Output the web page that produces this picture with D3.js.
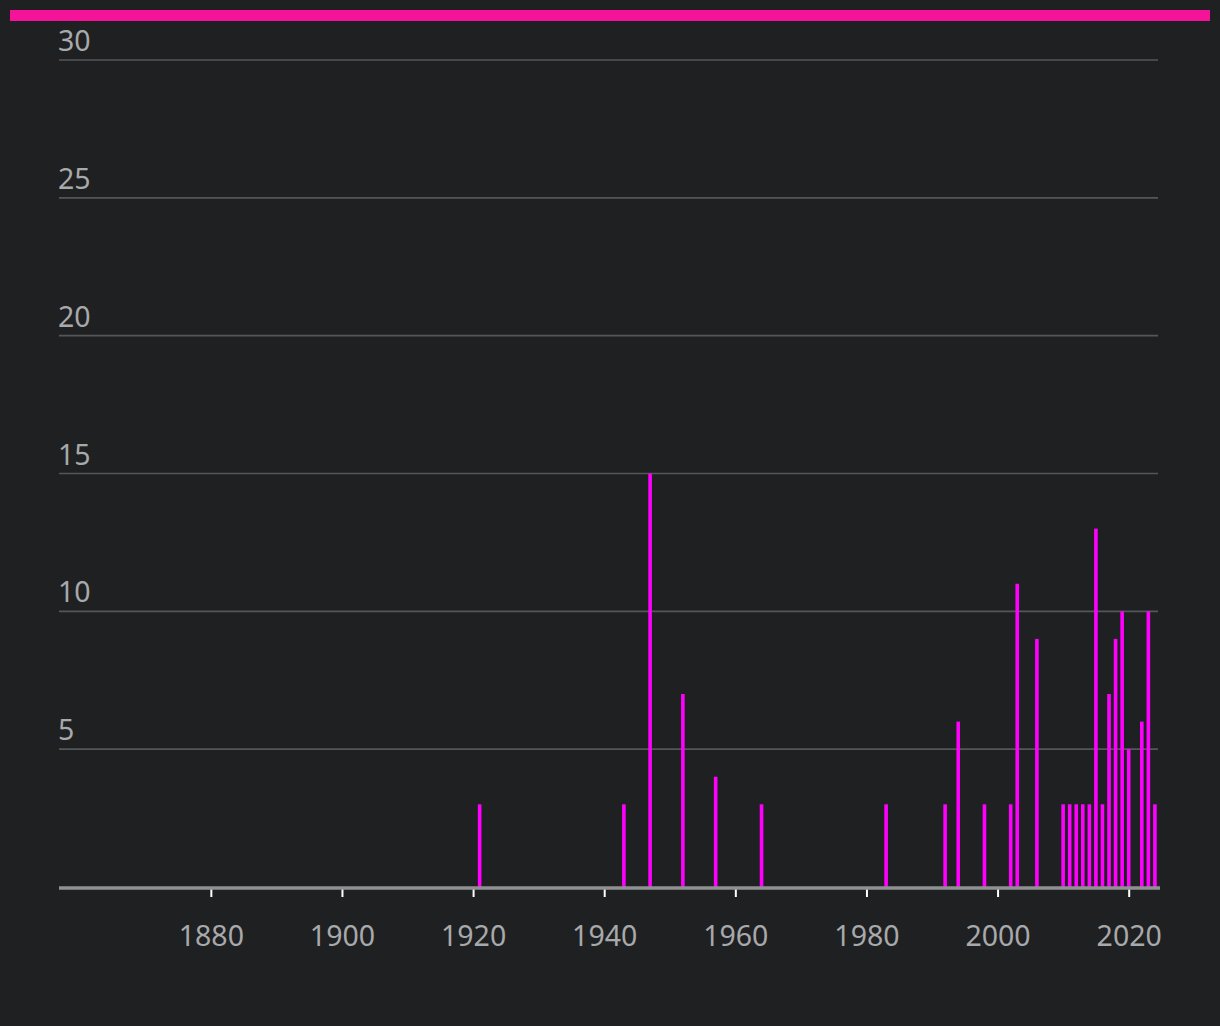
<!DOCTYPE html>
<html>
<head>
<meta charset="utf-8">
<script src="https://cdn.jsdelivr.net/npm/d3@7"></script>
<style>
  html, body { margin: 0; padding: 0; background: #1f2022; }
  svg { display: block; }
</style>
</head>
<body>
<div id="chart"></div>
<script>
const years  = [1921, 1943, 1947, 1952, 1957, 1964, 1983, 1992, 1994, 1998, 2002, 2003, 2006, 2010, 2011, 2012, 2013, 2014, 2015, 2016, 2017, 2018, 2019, 2020, 2022, 2023, 2024];
const values = [3, 3, 15, 7, 4, 3, 3, 3, 6, 3, 3, 11, 9, 3, 3, 3, 3, 3, 13, 3, 7, 9, 10, 5, 6, 10, 3];
const yTicks = [0, 5, 10, 15, 20, 25, 30];
const xTicks = [1880, 1900, 1920, 1940, 1960, 1980, 2000, 2020];

const W = 1220, H = 1026;
const svg = d3.select("#chart").append("svg").attr("width", W).attr("height", H);
svg.append("rect").attr("width", W).attr("height", H).attr("fill", "#1f2022");

// top accent bar
svg.append("rect").attr("x", 10).attr("y", 10).attr("width", 1200).attr("height", 11).attr("fill", "#f5139a");

const x = d3.scaleLinear().domain([1856.84, 2024.47]).range([59, 1158]);
const y = d3.scaleLinear().domain([0, 30]).range([887, 60]);
const font = "'Noto Sans', 'Open Sans', sans-serif";

// gridlines + labels
const g = svg.append("g");
yTicks.filter(d => d > 0).forEach(t => {
  g.append("line").attr("x1", 59).attr("x2", 1158).attr("y1", y(t)).attr("y2", y(t))
    .attr("stroke", "#555659").attr("stroke-width", 1.6);
  g.append("text").attr("x", 58).attr("y", y(t) - 9).text(t)
    .attr("fill", "#a8a9ab").attr("font-size", 28.5).attr("font-family", font);
});

// bars
const bw = 3.6;
svg.append("g").selectAll("rect").data(years).join("rect")
  .attr("x", (d) => x(d) - bw / 2)
  .attr("width", bw)
  .attr("y", (d, i) => y(values[i]))
  .attr("height", (d, i) => y(0) - y(values[i]))
  .attr("fill", "#ff00ff");

// x axis
const xAxis = d3.axisBottom(x).tickValues(xTicks).tickFormat(d3.format("d")).tickSize(10).tickPadding(29);
const ax = svg.append("g").attr("transform", `translate(0,${y(0)})`).call(xAxis);
ax.select(".domain").remove();
ax.selectAll(".tick line").attr("stroke", "#ffffff").attr("stroke-width", 2);
ax.selectAll(".tick text").attr("fill", "#a8a9ab").attr("font-size", 28.5).attr("font-family", font);
svg.append("line").attr("x1", 59).attr("x2", 1160).attr("y1", y(0) + 1).attr("y2", y(0) + 1)
  .attr("stroke", "#8f9092").attr("stroke-width", 3.5);
</script>
</body>
</html>
